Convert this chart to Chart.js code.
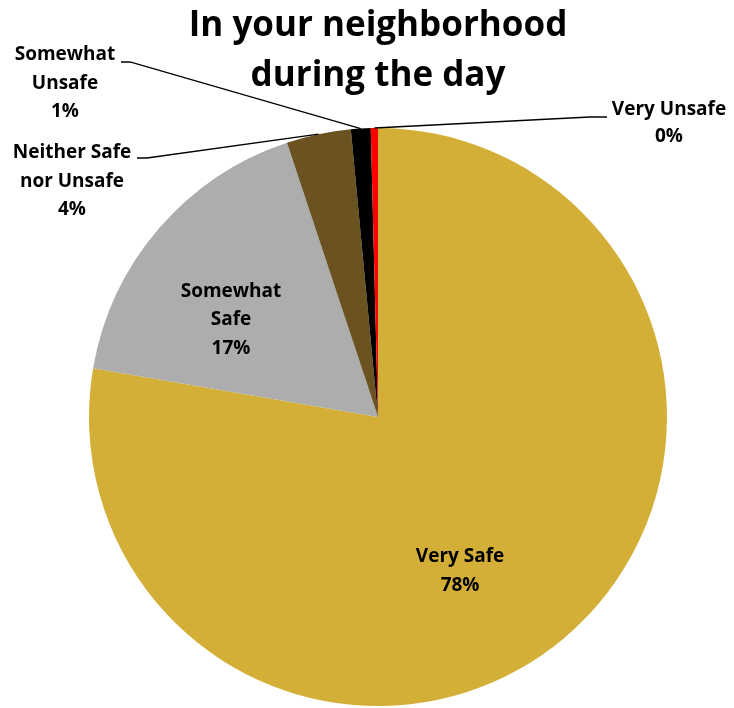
<!DOCTYPE html>
<html>
<head>
<meta charset="utf-8">
<script src="https://cdn.jsdelivr.net/npm/chart.js@4.4.1/dist/chart.umd.min.js"></script>
<style>
  html, body { margin: 0; padding: 0; background: #ffffff; }
  #wrap { width: 734px; height: 708px; position: relative; }
</style>
</head>
<body>
<div id="wrap"><canvas id="chart" width="734" height="708"></canvas></div>
<script>
// Survey answers: perceived safety in the neighborhood during the day (percent)
const categories = ['Very Safe', 'Somewhat Safe', 'Neither Safe nor Unsafe', 'Somewhat Unsafe', 'Very Unsafe'];
const shares = [77.7, 17.2, 3.6, 1.1, 0.4];
const sliceColors = ['#D4AF37', '#ADADAD', '#6B5321', '#000000', '#FF0000'];
const titleLines = ['In your neighborhood', 'during the day'];

// Label text lines per slice (value line appended from the data)
const labelLines = [
  ['Very Safe'],
  ['Somewhat', 'Safe'],
  ['Neither Safe', 'nor Unsafe'],
  ['Somewhat', 'Unsafe'],
  ['Very Unsafe']
];

const FONT = "'Open Sans', 'DejaVu Sans', sans-serif";

// Placement of labels: inside labels by angle/radius, callouts with leader lines
const labelPlacement = [
  { inside: true, angleShift: 12.1, radiusFrac: 0.604 },
  { inside: true, angleShift: -7.2, radiusFrac: 0.61 },
  { inside: false, elbow: [147, 158], end: [137, 158], textX: 72, textY: 153 },
  { inside: false, elbow: [130, 62], end: [121, 62], textX: 65, textY: 55 },
  { inside: false, elbow: [590, 117], end: [607, 117], textX: 669, textY: 110 }
];

const total = shares.reduce((a, b) => a + b, 0);
const pctText = v => Math.round(v / total * 100) + '%';

const labelPlugin = {
  id: 'pieLabels',
  afterDraw(chart) {
    const ctx = chart.ctx;
    const arcs = chart.getDatasetMeta(0).data;
    const cx = arcs[0].x;
    ctx.save();
    ctx.fillStyle = '#000000';
    ctx.textAlign = 'center';
    ctx.textBaseline = 'middle';

    // Title
    ctx.font = 'bold 35px ' + FONT;
    ctx.fillText(titleLines[0], cx, 26);
    ctx.fillText(titleLines[1], cx, 76);

    ctx.font = 'bold 19px ' + FONT;
    const lh = 28.5;
    arcs.forEach((arc, i) => {
      const p = labelPlacement[i];
      const lines = labelLines[i].concat([pctText(shares[i])]);
      const mid = (arc.startAngle + arc.endAngle) / 2;
      if (p.inside) {
        const a = mid + p.angleShift * Math.PI / 180;
        const r = arc.outerRadius * p.radiusFrac;
        const x = arc.x + Math.cos(a) * r;
        const y = arc.y + Math.sin(a) * r;
        const y0 = y - (lines.length - 1) * lh / 2;
        lines.forEach((t, k) => ctx.fillText(t, x, y0 + k * lh));
      } else {
        const sx = arc.x + Math.cos(mid) * arc.outerRadius;
        const sy = arc.y + Math.sin(mid) * arc.outerRadius;
        ctx.strokeStyle = '#000000';
        ctx.lineWidth = 1.3;
        ctx.beginPath();
        ctx.moveTo(sx, sy);
        ctx.lineTo(p.elbow[0], p.elbow[1]);
        ctx.lineTo(p.end[0], p.end[1]);
        ctx.stroke();
        lines.forEach((t, k) => ctx.fillText(t, p.textX, p.textY + k * (i === 4 ? 27 : lh)));
      }
    });
    ctx.restore();
  }
};

new Chart(document.getElementById('chart'), {
  type: 'pie',
  data: {
    labels: categories,
    datasets: [{
      data: shares,
      backgroundColor: sliceColors,
      borderWidth: 0,
      hoverOffset: 0,
      offset: 0
    }]
  },
  options: {
    responsive: false,
    animation: false,
    layout: { padding: { left: 89, right: 67, top: 128, bottom: 2 } },
    plugins: {
      legend: { display: false },
      tooltip: { enabled: false },
      title: { display: false }
    }
  },
  plugins: [labelPlugin]
});
</script>
</body>
</html>
